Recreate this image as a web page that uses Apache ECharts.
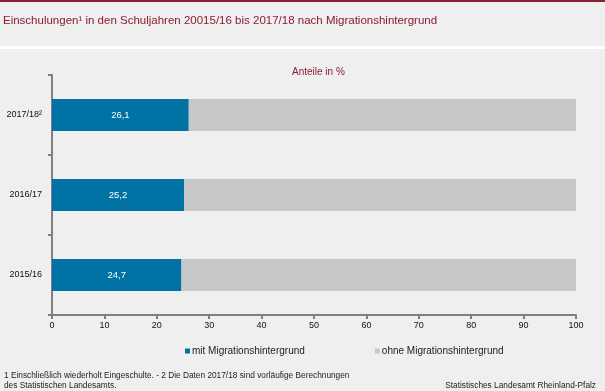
<!DOCTYPE html>
<html><head><meta charset="utf-8">
<script src="https://cdn.jsdelivr.net/npm/echarts@6/dist/echarts.min.js"></script>
<style>html,body{margin:0;padding:0;background:#eeefee}#c{width:605px;height:391px}</style>
</head><body><div id="c"></div>
<script>
var categories = ['2015/16', '2016/17', '2017/18²'];
var mitMigration = [24.7, 25.2, 26.1];
var ohneMigration = [75.3, 74.8, 73.9];
var xTicks = {min: 0, max: 100, interval: 10};
var seriesNames = ['mit Migrationshintergrund', 'ohne Migrationshintergrund'];

var chart = echarts.init(document.getElementById('c'), null, {renderer: 'canvas'});
var F = '"Liberation Sans", Arial, sans-serif';
chart.setOption({
  backgroundColor: '#eeefee',
  animation: false,
  textStyle: {fontFamily: F},
  graphic: [
    {type: 'rect', left: 0, top: 0, shape: {width: 605, height: 2}, style: {fill: '#8b1c32'}},
    {type: 'rect', left: 0, top: 46, shape: {width: 605, height: 3}, style: {fill: '#ffffff'}},
    {type: 'text', left: 3, top: 15, style: {text: 'Einschulungen¹ in den Schuljahren 20015/16 bis 2017/18 nach Migrationshintergrund', fill: '#8b1c32', font: '11.5px ' + F}},
    {type: 'text', left: 292, top: 67, style: {text: 'Anteile in %', fill: '#8b1c32', font: '10px ' + F}},
    {type: 'text', left: 4, top: 371, style: {text: '1 Einschließlich wiederholt Eingeschulte. - 2 Die Daten 2017/18 sind vorläufige Berechnungen\ndes Statistischen Landesamts.', fill: '#222', font: '8.3px ' + F, lineHeight: 10}},
    {type: 'text', right: 9, top: 382, style: {text: 'Statistisches Landesamt Rheinland-Pfalz', fill: '#222', font: '8.3px ' + F}}
  ],
  legend: {
    left: 180, top: 341, itemWidth: 5, itemHeight: 5, itemGap: 70, icon: 'rect',
    textStyle: {fontSize: 10, color: '#222', fontFamily: F, padding: [0, 0, 0, -3]},
    data: seriesNames
  },
  grid: {left: 52, right: 29, top: 75, bottom: 76, containLabel: false},
  xAxis: {
    type: 'value', min: xTicks.min, max: xTicks.max, interval: xTicks.interval,
    axisLine: {show: true, lineStyle: {color: '#808080', width: 2}},
    axisTick: {show: true, length: 4, lineStyle: {color: '#808080', width: 2}},
    axisLabel: {fontSize: 9, color: '#111', margin: 6, fontFamily: F},
    splitLine: {show: false}
  },
  yAxis: {
    type: 'category', data: categories,
    axisLine: {show: true, lineStyle: {color: '#808080', width: 2}},
    axisTick: {show: true, length: 4, lineStyle: {color: '#808080', width: 2}},
    axisLabel: {fontSize: 9, color: '#111', margin: 10, fontFamily: F}
  },
  series: [
    {name: seriesNames[0], type: 'bar', stack: 'a', data: mitMigration, barWidth: 32,
     itemStyle: {color: '#0072a4'},
     label: {show: true, position: 'inside', color: '#fff', fontSize: 9.5, fontFamily: F,
       formatter: function (p) { return String(p.value).replace('.', ','); }}},
    {name: seriesNames[1], type: 'bar', stack: 'a', data: ohneMigration, barWidth: 32,
     itemStyle: {color: '#c6c7c8'}}
  ]
});
</script></body></html>
